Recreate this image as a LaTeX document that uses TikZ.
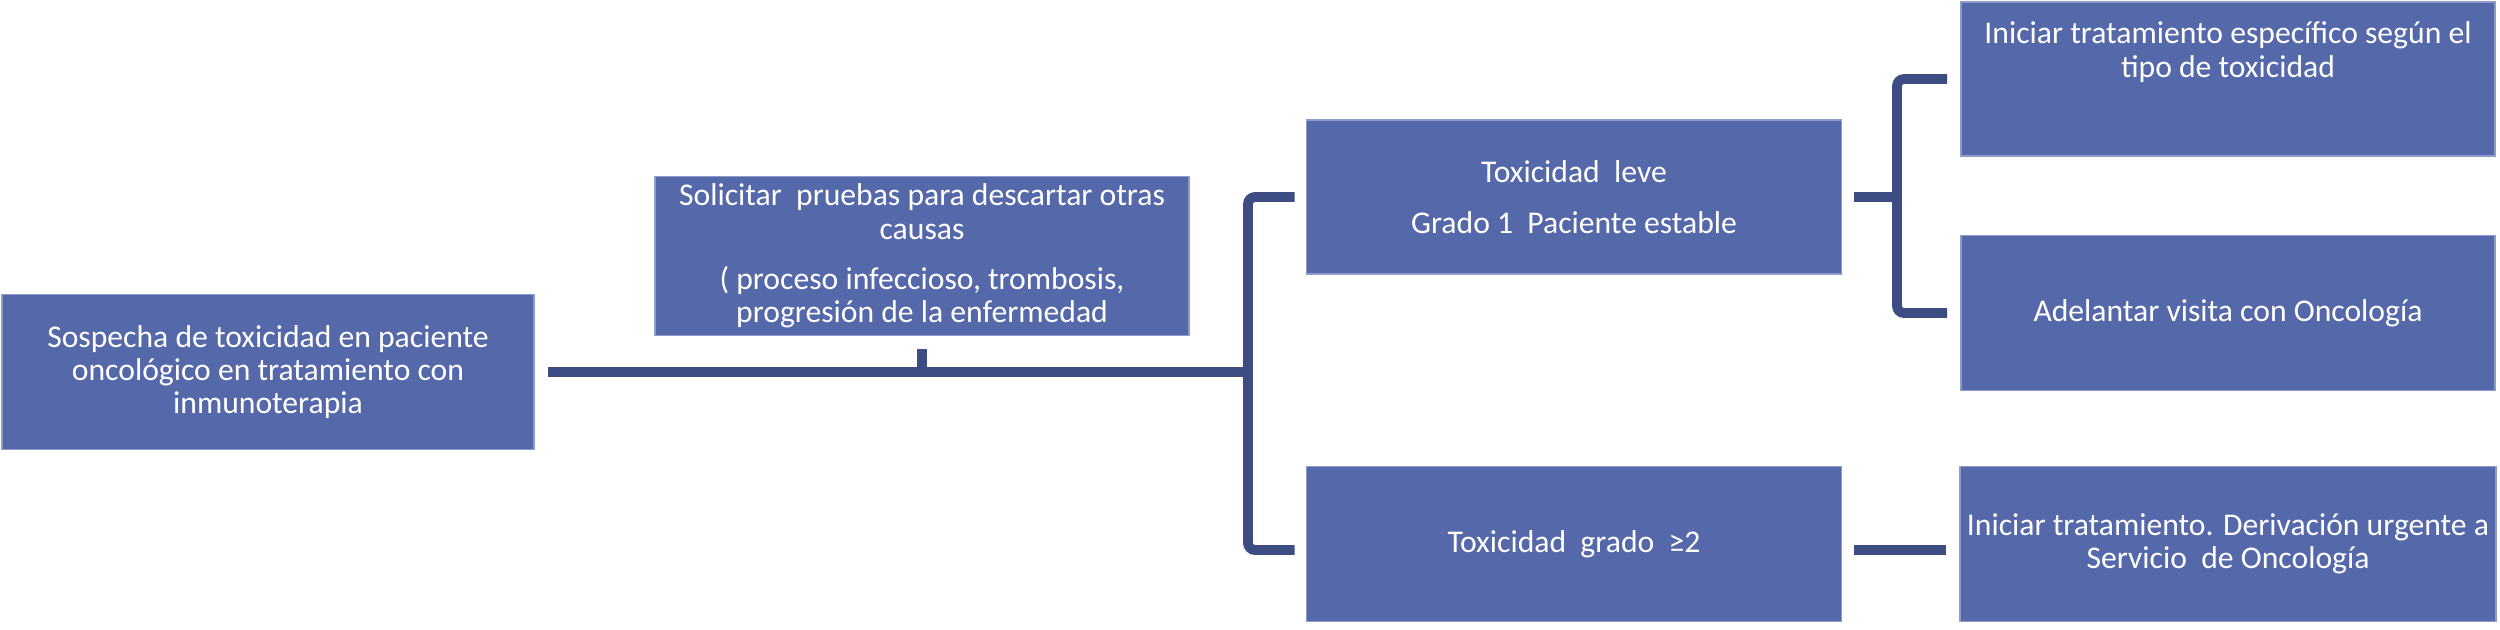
\documentclass[tikz,border=0pt]{standalone}
\usepackage{fontspec}
\setmainfont{Carlito}
\definecolor{boxfill}{HTML}{5568AA}
\definecolor{boxedge}{HTML}{8E9CCB}
\definecolor{linecol}{HTML}{3D4D84}
\tikzset{
  box/.style={rectangle, fill=boxfill, draw=boxedge, line width=0.4pt,
    minimum width=5.34cm, minimum height=1.54cm, inner sep=2pt,
    text=white, align=center, font=\fontsize{9}{9.5}\selectfont},
  txt/.style={text=white, align=center, inner sep=0pt, font=\fontsize{9}{9.5}\selectfont},
  conn/.style={draw=linecol, line width=2.8pt, line cap=butt, rounded corners=2pt}
}
\begin{document}
\begin{tikzpicture}[x=0.01cm, y=-0.01cm]
\useasboundingbox (0,0) rectangle (2500,629);
\node[box, minimum width=5.32cm, minimum height=1.55cm] (b1) at (268,372)
  {Sospecha de toxicidad en paciente\\oncológico en tratamiento con\\inmunoterapia};
\node[box] (b2) at (922,256)
  {Solicitar\ \ pruebas para descartar otras\\causas\\[0.17cm]( proceso infeccioso, trombosis,\\progresión de la enfermedad};
\node[box, minimum width=5.35cm] (b3) at (1574,197)
  {Toxicidad\ \ leve\\[0.17cm]Grado 1\ \ Paciente estable};
\node[box, minimum width=5.35cm, minimum height=1.55cm] (b4) at (1574,544)
  {Toxicidad\ \ grado\ \ ≥2};
\node[box, minimum height=1.54cm] (b5) at (2228,79) {};
\node[txt, anchor=north] (t5) at ([yshift=-0.2cm]b5.north)
  {Iniciar tratamiento específico según el\\tipo de toxicidad};
\node[box, minimum height=1.55cm] (b6) at (2228,313) {Adelantar visita con Oncología};
\node[box, minimum height=1.55cm] (b7) at (2228,544)
  {Iniciar tratamiento. Derivación urgente a\\Servicio\ \ de Oncología};
\coordinate (j1) at (1248,372);
\coordinate (j2) at (1897,197);
\draw[conn] ([xshift=0.13cm]b1.east) -- (j1);
\draw[conn] ([yshift=-0.13cm]b2.south) -- (b2.south |- j1);
\draw[conn] ([xshift=-0.11cm]b3.west) -| (j1) |- ([xshift=-0.11cm,yshift=-0.06cm]b4.west);
\draw[conn] ([xshift=0.12cm]b3.east) -- (j2);
\draw[conn] ([xshift=-0.13cm]b5.west) -| (j2) |- ([xshift=-0.13cm]b6.west);
\draw[conn] ([xshift=0.12cm,yshift=-0.06cm]b4.east) -- ([xshift=-0.13cm,yshift=-0.06cm]b7.west);
\end{tikzpicture}
\end{document}
